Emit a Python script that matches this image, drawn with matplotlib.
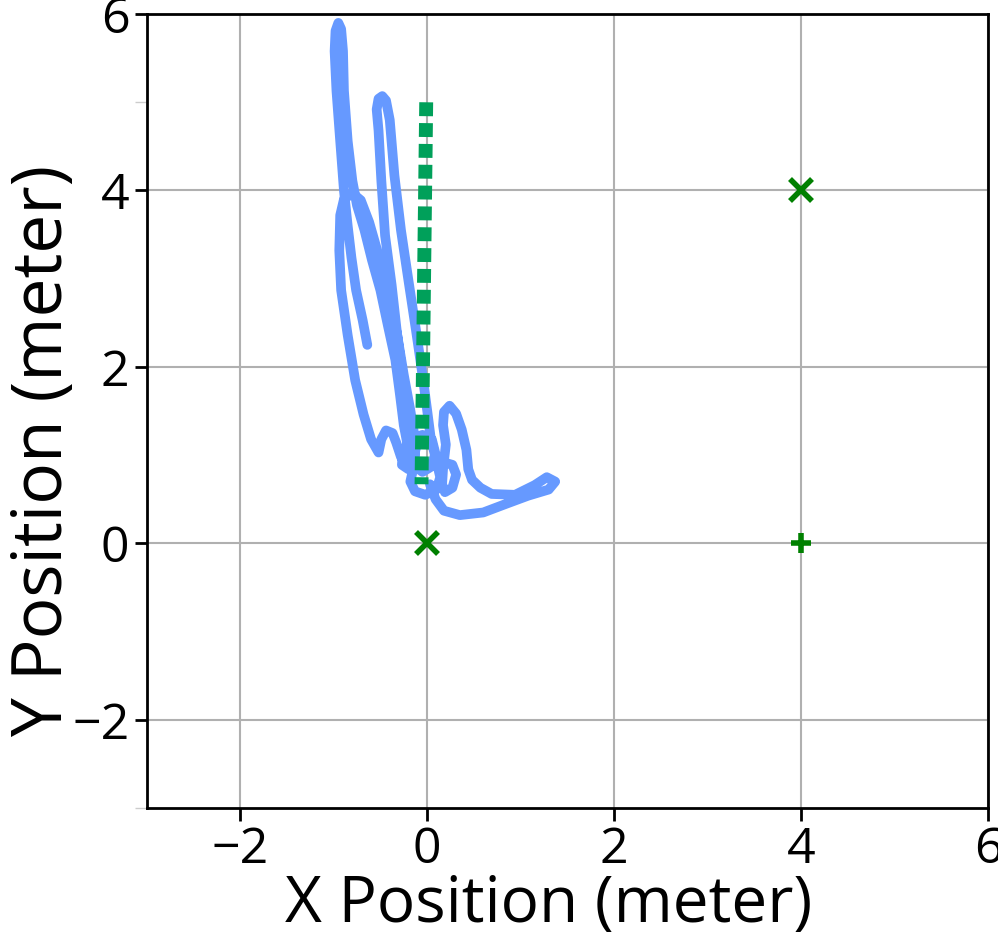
import matplotlib
matplotlib.use("Agg")
import matplotlib.pyplot as plt

# walked trajectory (meter)
traj_x = [-0.64, -0.69, -0.76, -0.81, -0.85, -0.89, -0.93, -0.97, -0.99, -0.98,
          -0.95, -0.92, -0.90, -0.89, -0.85, -0.80, -0.75, -0.67, -0.59, -0.50,
          -0.42, -0.34, -0.29, -0.25, -0.20, -0.14, -0.05, 0.03, 0.09, 0.05,
          -0.05, -0.18, -0.26, -0.27, -0.20, -0.13, -0.13, -0.18, -0.25, -0.32,
          -0.41, -0.51, -0.62, -0.71, -0.80, -0.89, -0.93, -0.94, -0.92, -0.85,
          -0.77, -0.68, -0.60, -0.52, -0.49, -0.44, -0.37, -0.33, -0.28, -0.22,
          -0.15, -0.12, -0.16, -0.25, -0.32, -0.38, -0.45, -0.49, -0.52, -0.54,
          -0.52, -0.48, -0.44, -0.40, -0.35, -0.28, -0.20, -0.12, -0.05, 0.00,
          0.04, 0.10, 0.14, 0.10, -0.02, -0.13, -0.18, -0.15, -0.02, 0.14,
          0.27, 0.31, 0.27, 0.19, 0.16, 0.17, 0.20, 0.17, 0.18, 0.24,
          0.31, 0.37, 0.42, 0.44, 0.48, 0.57, 0.69, 0.94, 1.15, 1.28,
          1.37, 1.30, 1.08, 0.85, 0.60, 0.35, 0.18, 0.09, 0.03]
traj_y = [2.25, 2.53, 2.87, 3.24, 3.60, 4.00, 4.56, 5.13, 5.58, 5.81,
          5.90, 5.83, 5.58, 5.13, 4.56, 4.11, 3.83, 3.55, 3.21, 2.87,
          2.47, 2.08, 1.68, 1.34, 1.06, 0.88, 0.81, 0.86, 1.01, 1.18,
          1.23, 1.18, 1.04, 0.89, 0.84, 0.93, 1.18, 1.51, 1.91, 2.36,
          2.81, 3.23, 3.64, 3.89, 3.97, 3.90, 3.72, 3.32, 2.87, 2.36,
          1.85, 1.46, 1.18, 1.03, 1.18, 1.28, 1.25, 1.14, 0.98, 0.89,
          0.95, 1.08, 1.34, 1.80, 2.36, 2.93, 3.49, 4.11, 4.68, 4.92,
          5.04, 5.07, 5.02, 4.80, 4.17, 3.55, 2.98, 2.42, 1.91, 1.51,
          1.18, 0.93, 0.75, 0.61, 0.55, 0.59, 0.70, 0.84, 0.89, 0.93,
          0.89, 0.78, 0.63, 0.58, 0.67, 0.84, 1.12, 1.34, 1.49, 1.56,
          1.47, 1.29, 1.06, 0.84, 0.72, 0.63, 0.56, 0.55, 0.66, 0.75,
          0.70, 0.61, 0.54, 0.45, 0.35, 0.32, 0.37, 0.50, 0.67]

# reference path
ref_x = [-0.01, -0.06]
ref_y = [5.0, 0.67]

# anchors
x_marks_x = [0, 4]
x_marks_y = [0, 4]
plus_x = [4]
plus_y = [0]

plt.rcParams['font.family'] = ['Open Sans', 'DejaVu Sans']

fig = plt.figure(figsize=(9.98, 9.38), dpi=100)
ax = fig.add_axes([0.147, 0.1386, 0.843, 0.8464])

ax.grid(True, color='#b0b0b0', linewidth=1.5, zorder=0)
ax.plot(traj_x, traj_y, color='#6699FF', linewidth=7,
        solid_joinstyle='round', solid_capstyle='round', zorder=2)
ax.plot(ref_x, ref_y, color='#00A05A', linewidth=10,
        linestyle=(0, (1, 0.5)), zorder=3)
ax.plot(x_marks_x, x_marks_y, linestyle='none', marker='x', color='green',
        markersize=16, markeredgewidth=4, zorder=4)
ax.plot(plus_x, plus_y, linestyle='none', marker='+', color='green',
        markersize=14, markeredgewidth=4, zorder=4)

ax.set_xlim(-3, 6)
ax.set_ylim(-3, 6)
ax.set_xticks([-2, 0, 2, 4, 6])
ax.set_yticks([-2, 0, 2, 4, 6])
ax.set_yticks([-3, 5], minor=True)
ax.tick_params(axis='both', which='major', labelsize=36, length=9, width=2)
ax.tick_params(axis='y', which='minor', length=9, width=1, color='#cccccc')
for s in ax.spines.values():
    s.set_linewidth(2)

ax.set_xlabel('X Position (meter)', fontsize=46)
ax.xaxis.set_label_coords(0.478, -0.082)
ax.set_ylabel('Y Position (meter)', fontsize=50)
ax.yaxis.set_label_coords(-0.080, 0.45)

fig.savefig('out.png', dpi=100)
